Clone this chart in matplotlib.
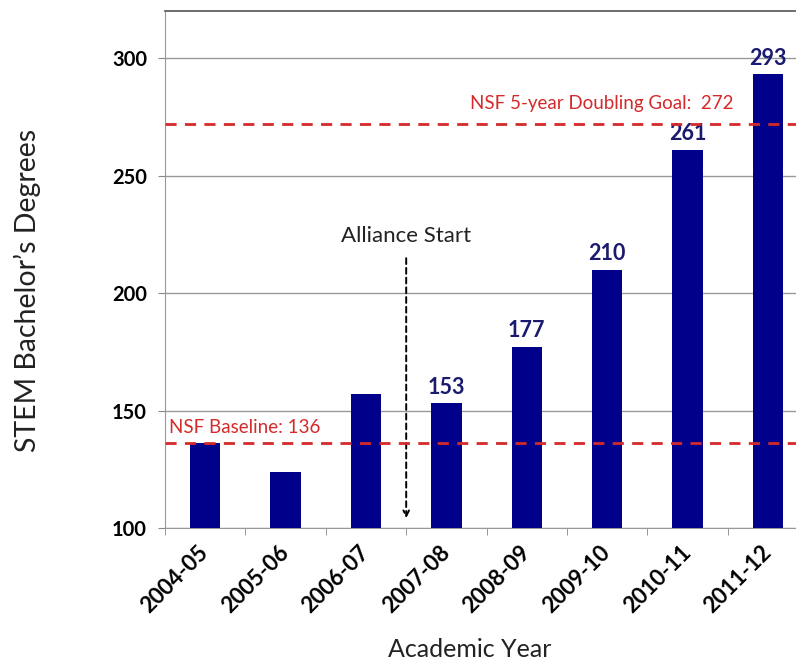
import numpy as np
import matplotlib.pyplot as plt

plt.rcParams['font.family'] = ['Lato', 'DejaVu Sans']

# --- Datos ---
years = ["2004-05", "2005-06", "2006-07", "2007-08",
         "2008-09", "2009-10", "2010-11", "2011-12"]
degrees = [136, 124, 157, 153, 177, 210, 261, 293]
labelled = [False, False, False, True, True, True, True, True]
baseline = 136
goal = 272
alliance_pos = 2.5  # between 2006-07 and 2007-08

navy = "#00008b"
red = "#d42a2a"

fig = plt.figure(figsize=(7.96, 6.64), dpi=100)
ax = fig.add_axes([0.2073, 0.2048, 0.808, 0.7786])

x = np.arange(len(years))
ax.bar(x, degrees, width=0.38, bottom=0, color=navy, zorder=3)

for xi, v, show in zip(x, degrees, labelled):
    if show:
        ax.text(xi, v + 2.5, str(v), ha="center", va="bottom",
                fontsize=15.5, fontweight="bold", color="#1a1a6e", zorder=4)

# --- Líneas de referencia NSF ---
ax.axhline(baseline, color=red, lw=2, ls=(0, (4, 3)), zorder=4)
ax.axhline(goal, color=red, lw=2, ls=(0, (4, 3)), zorder=4)
ax.text(-0.45, baseline + 3, f"NSF Baseline: {baseline}", color=red,
        fontsize=13.5, ha="left", va="bottom")
ax.text(6.57, goal + 5, f"NSF 5-year Doubling Goal:  {goal}", color=red,
        fontsize=13.5, ha="right", va="bottom")

# --- Inicio de la alianza ---
ax.annotate("", xy=(alliance_pos, 103), xytext=(alliance_pos, 216),
            arrowprops=dict(arrowstyle="->", color="black", lw=1.4,
                            linestyle=(0, (3, 2))))
ax.text(alliance_pos, 220, "Alliance Start", ha="center", va="bottom",
        fontsize=16, color="#222222")

# --- Ejes ---
ax.set_xlim(-0.5, len(years) - 0.5)
ax.set_ylim(100, 320)
ax.set_yticks([100, 150, 200, 250, 300])
ax.tick_params(axis="y", labelsize=14.5, length=5, color="#888888", pad=8)
for lbl in ax.get_yticklabels():
    lbl.set_fontweight("bold")

ax.set_xticks(x)
ax.set_xticklabels(years, rotation=45, ha="right", va="center",
                   rotation_mode="anchor", fontsize=16, fontweight="bold")
ax.tick_params(axis="x", length=0, pad=15)
ax.set_xticks(np.arange(-0.5, len(years), 1), minor=True)
ax.tick_params(axis="x", which="minor", length=5, color="#888888")

ax.grid(axis="y", color="#999999", lw=1, zorder=0)
ax.spines["right"].set_visible(False)
ax.spines["top"].set_color("#555555")
ax.spines["top"].set_linewidth(1.2)
ax.spines["left"].set_color("#999999")
ax.spines["bottom"].set_color("#999999")

fig.text(0.034, 0.562, "STEM Bachelor\u2019s Degrees", rotation=90,
         ha="center", va="center", fontsize=20.5, color="#222222")
fig.text(0.59, 0.005, "Academic Year", ha="center", va="bottom",
         fontsize=18, color="#222222")

fig.savefig("out.png", dpi=100)
